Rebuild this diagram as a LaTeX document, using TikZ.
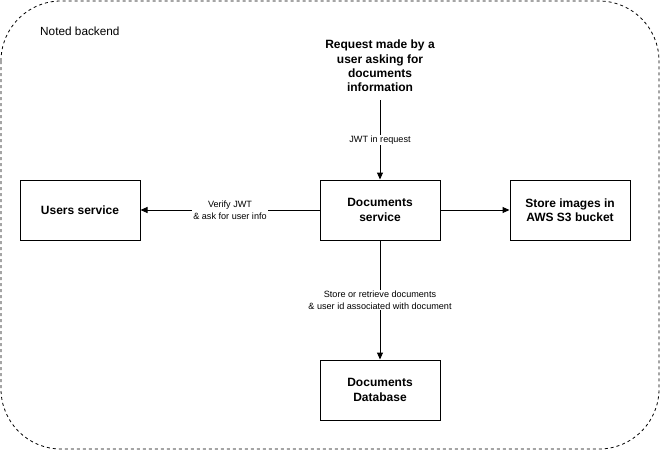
\documentclass[tikz,border=0pt]{standalone}
\usepackage{fontspec}
\setmainfont{Liberation Sans}
\usetikzlibrary{arrows.meta}
\begin{document}
\begin{tikzpicture}[x=1pt,y=-1pt,
  svc/.style={draw,line width=1pt,minimum width=120pt,minimum height=60pt,align=center,font=\fontsize{12}{14.5}\selectfont\bfseries,inner sep=0pt},
  conn/.style={line width=1pt,-{Triangle[length=7pt,width=6pt]}},
  lbl/.style={fill=white,align=center,font=\fontsize{9.1}{12}\selectfont,inner sep=1pt}]
\useasboundingbox (0,0) rectangle (661,451);
\draw[dashed,line width=0.8pt,rounded corners=60pt] (1,1) rectangle (659,449);
\node[anchor=west,inner sep=0pt,font=\fontsize{11.8}{13}\selectfont] (title) at (40,31) {Noted backend};
\node[svc] (users) at (80,210) {Users service};
\node[svc] (docs) at (380,210) {Documents\\service};
\node[svc] (s3) at (570,210) {Store images in\\AWS S3 bucket};
\node[svc] (db) at (380,390) {Documents\\Database};
\node[align=center,font=\fontsize{12}{14.3}\selectfont\bfseries,inner sep=0pt] (req) at (380,66) {Request made by a\\user asking for\\documents\\information};
\coordinate (reqend) at (380,100);
\draw[conn] (reqend) -- node[lbl] {JWT in request} (docs.north);
\draw[conn] (docs.west) -- node[lbl] {Verify JWT\\\& ask for user info} (users.east);
\draw[conn] (docs.east) -- (s3.west);
\draw[conn] (docs.south) -- node[lbl] {Store or retrieve documents\\\& user id associated with document} (db.north);
\end{tikzpicture}
\end{document}
